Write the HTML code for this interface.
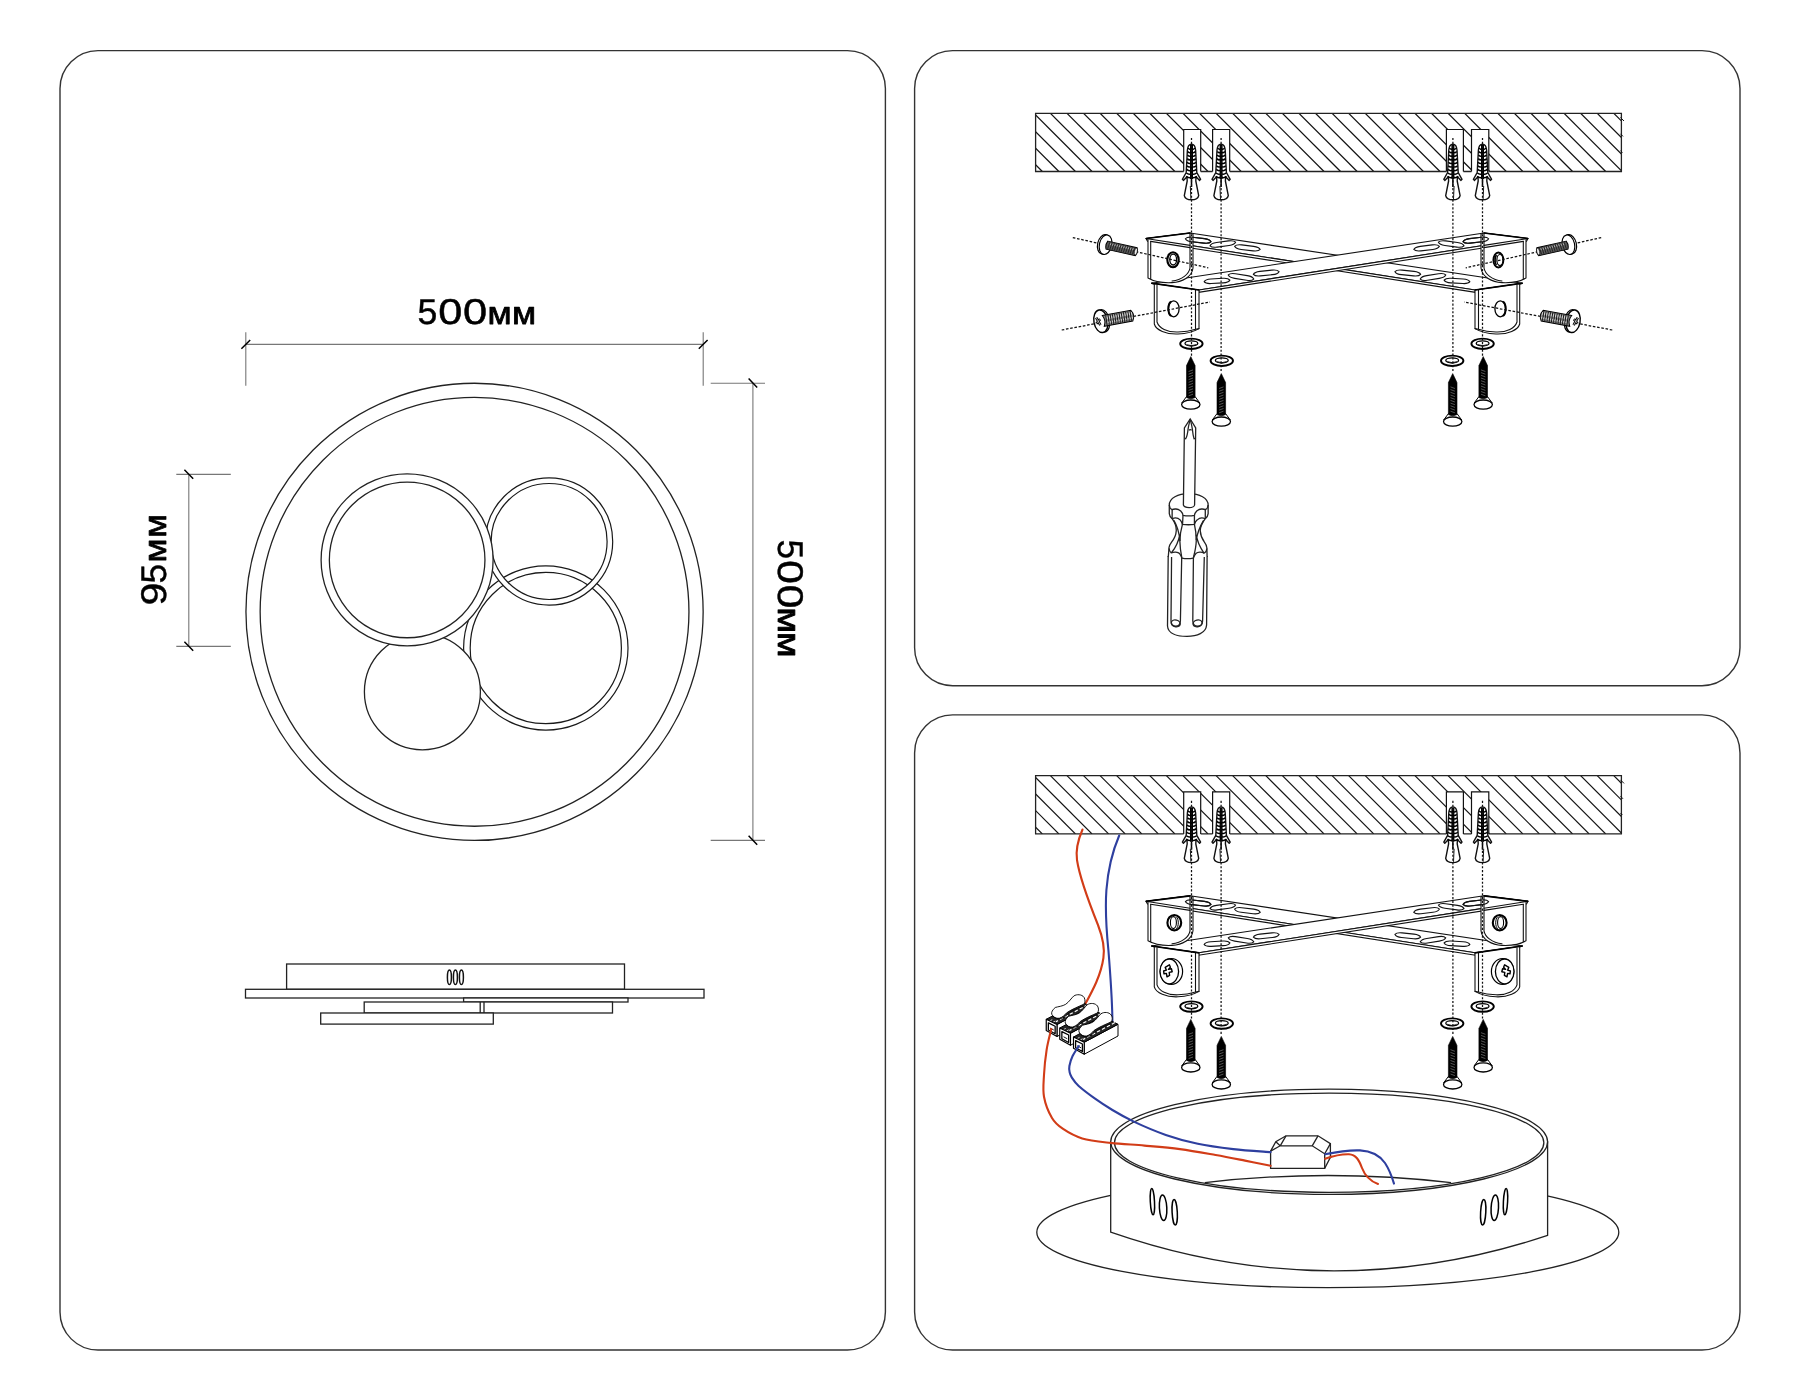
<!DOCTYPE html>
<html lang="ru"><head><meta charset="utf-8"><title>500мм × 500мм × 95мм</title>
<style>
html,body{margin:0;padding:0;background:#fff}
body{width:1800px;height:1400px;overflow:hidden}
svg{display:block}
.t{filter:grayscale(1);text-rendering:geometricPrecision;font-family:"Liberation Sans",sans-serif;font-size:36px;fill:#000;stroke:#000;stroke-width:.6px;stroke-linejoin:round}
.ln{fill:none;stroke:#222;stroke-width:1.3}
.lw{fill:#fff;stroke:#222;stroke-width:1.3}
.pn{fill:none;stroke:#333;stroke-width:1.4}
.dm{fill:none;stroke:#777;stroke-width:1.1}
.tk{fill:none;stroke:#000;stroke-width:1.5}
.ds{fill:none;stroke:#111;stroke-width:1.25;stroke-dasharray:2.1 1.75}
.br{fill:#fff;stroke:#111;stroke-width:1.1;stroke-linejoin:round}
.bl{fill:none;stroke:#111;stroke-width:1.1;stroke-linecap:round}
.bk{fill:none;stroke:#000;stroke-width:1.7;stroke-linecap:butt}
.hs{stroke:#111;stroke-width:1.2;fill:none}
</style></head><body>
<svg width="1800" height="1400" viewBox="0 0 1800 1400">
<rect width="1800" height="1400" fill="#fff"/>

<defs>
<clipPath id="slabclip"><rect x="1035.6" y="113.2" width="585.8" height="58.3"/></clipPath>
<g id="anchor">
<path class="br" style="stroke-width:1.4" d="M0,144.1 C-2.6,144.3 -3.9,147 -4.1,150 L-5.3,172.5 L-9.1,179.3 L-8.1,180.4 L-4.5,176.8 L-4.3,181 L-7.2,195.6 C-6.6,198.6 -3,199.8 0,199.8 C3,199.8 6.6,198.6 7.2,195.6 L4.3,181 L4.5,176.8 L8.1,180.4 L9.1,179.3 L5.3,172.5 L4.1,150 C3.9,147 2.6,144.3 0,144.1 Z"/>
<path d="M0,145 L0,179" stroke="#000" stroke-width="3" fill="none"/><path d="M0,179 L0,187" stroke="#000" stroke-width="1.5" fill="none"/>
<path d="M-1.2,186 L-0.6,199" stroke="#000" stroke-width="0.9" fill="none"/>
<path d="M-3.6,147.9 Q-1.8,150.1 0,148.5 Q1.8,150.1 3.6,147.9" stroke="#000" stroke-width="1.5" fill="none"/>
<path d="M-3.8,151.4 Q-1.9,153.6 0,152.0 Q1.9,153.6 3.8,151.4" stroke="#000" stroke-width="1.5" fill="none"/>
<path d="M-4.0,155.0 Q-2.0,157.2 0,155.6 Q2.0,157.2 4.0,155.0" stroke="#000" stroke-width="1.5" fill="none"/>
<path d="M-4.3,158.6 Q-2.1,160.8 0,159.2 Q2.1,160.8 4.3,158.6" stroke="#000" stroke-width="1.5" fill="none"/>
<path d="M-4.5,162.2 Q-2.2,164.4 0,162.8 Q2.2,164.4 4.5,162.2" stroke="#000" stroke-width="1.5" fill="none"/>
<path d="M-4.7,165.8 Q-2.4,168.0 0,166.4 Q2.4,168.0 4.7,165.8" stroke="#000" stroke-width="1.5" fill="none"/>
<path d="M-4.9,169.4 Q-2.5,171.6 0,170.0 Q2.5,171.6 4.9,169.4" stroke="#000" stroke-width="1.5" fill="none"/>
<path d="M-5.1,173.0 Q-2.6,175.2 0,173.6 Q2.6,175.2 5.1,173.0" stroke="#000" stroke-width="1.5" fill="none"/>
<path d="M-5.4,176.4 Q-2.7,178.6 0,177.0 Q2.7,178.6 5.4,176.4" stroke="#000" stroke-width="1.5" fill="none"/>
</g>
<g id="washer">
<ellipse cx="0" cy="0" rx="11.2" ry="5.2" fill="#fff" stroke="#000" stroke-width="1.9"/>
<ellipse cx="0" cy="-0.4" rx="6.4" ry="2.6" fill="#fff" stroke="#000" stroke-width="1.3"/>
<path d="M-5,0.6 Q0,3.2 5,0.6" fill="none" stroke="#000" stroke-width=".7"/>
</g>
<g id="wscrew">
<path d="M-4.3,40 L-9,46.4 L9,46.4 L4.3,40 Z" fill="#fff" stroke="#000" stroke-width="1"/>
<ellipse cx="0" cy="48" rx="9.2" ry="4.6" fill="#fff" stroke="#000" stroke-width="1.3"/>
<path d="M0,0 L4.3,9 L4.3,41 Q0,43.5 -4.3,41 L-4.3,9 Z" fill="#000" stroke="#000" stroke-width=".6" stroke-linejoin="round"/>
<path d="M-2.2,14.9 L2.2,13.3" stroke="#9a9a9a" stroke-width=".55"/>
<path d="M-2.2,17.6 L2.2,16.0" stroke="#9a9a9a" stroke-width=".55"/>
<path d="M-2.2,20.3 L2.2,18.7" stroke="#9a9a9a" stroke-width=".55"/>
<path d="M-2.2,23.0 L2.2,21.4" stroke="#9a9a9a" stroke-width=".55"/>
<path d="M-2.2,25.7 L2.2,24.1" stroke="#9a9a9a" stroke-width=".55"/>
<path d="M-2.2,28.4 L2.2,26.8" stroke="#9a9a9a" stroke-width=".55"/>
<path d="M-2.2,31.1 L2.2,29.5" stroke="#9a9a9a" stroke-width=".55"/>
<path d="M-2.2,33.8 L2.2,32.2" stroke="#9a9a9a" stroke-width=".55"/>
<path d="M-2.2,36.5 L2.2,34.9" stroke="#9a9a9a" stroke-width=".55"/>
<path d="M-2.2,39.2 L2.2,37.6" stroke="#9a9a9a" stroke-width=".55"/>
</g>
<path id="slot" d="M-12.9,0 C-11.4,-2.3 -8.5,-2.3 -6,-2.3 L6,-2.3 C8.5,-2.3 11.4,-2.3 12.9,0 C11.4,2.3 8.5,2.3 6,2.3 L-6,2.3 C-8.5,2.3 -11.4,2.3 -12.9,0 Z" fill="#fff" stroke="#111" stroke-width="1.1"/>
<g id="strip1"><path class="br" d="M1146,238.5 L1190,233 L1522.5,283.2 L1475,290 Z"/><path class="br" d="M1146,238.5 L1475,290 L1475.6,292.4 L1147.5,241.20000000000002 Z"/><use href="#slot" transform="translate(1198.2,240.2) rotate(6.5)"/><use href="#slot" transform="translate(1222.8,244) rotate(-8)"/><use href="#slot" transform="translate(1247.4,247.9) rotate(7)"/><use href="#slot" transform="translate(1407.8,273) rotate(6)"/><use href="#slot" transform="translate(1433,277) rotate(-9)"/><use href="#slot" transform="translate(1457,280.9) rotate(3.5)"/></g>
<g id="tabsL"><path class="br" d="M1151.5,283.2 L1154.3,284.2 L1154.3,324 C1156,330 1166,334.5 1178,334 C1187,333.6 1194,331.6 1199,328.6 L1199,290 Z"/>
<path class="bl" d="M1157,285.2 L1157,322 C1159,328 1167,332.4 1178,332 C1186,331.7 1191,330.6 1195.5,329.2 L1195.5,290"/>
<path class="bl" d="M1195.5,329.2 L1199,328.6"/>
<path class="bk" d="M1151.5,283.2 L1199,290"/>
<path class="br" d="M1146,238.5 L1148,239 L1148,278 C1154,281.5 1164,283 1172,282.6 C1182,282 1192,277 1193,268 L1193,234 L1190,233 Z"/>
<path class="bl" d="M1150.7,241.4 L1150.7,278.8"/>
<path class="bl" d="M1190,233 L1190,268 C1189,274 1182,280 1172,281"/>
<path class="bl" d="M1149,239 L1190,245.4"/>
<path class="bl" d="M1150.7,241.4 L1190,247.6"/>
<path class="bk" d="M1146,238.5 L1190,233"/>
</g>
<g id="holeUL">
<ellipse cx="1173" cy="259.8" rx="5.7" ry="7.5" fill="#fff" stroke="#000" stroke-width="2.1"/>
<ellipse cx="1173.2" cy="259.6" rx="3.4" ry="5.4" fill="#fff" stroke="#000" stroke-width="1.3"/>
</g>
<g id="holeUR">
<ellipse cx="1498.4" cy="260" rx="5" ry="7.5" fill="#fff" stroke="#000" stroke-width="1.9"/>
<ellipse cx="1499.9" cy="260" rx="3" ry="5.5" fill="#fff" stroke="#000" stroke-width="1.2"/>
<path d="M1496.4,255 C1494.6,257.5 1494.6,262.5 1496.4,265" fill="none" stroke="#000" stroke-width="1.6"/>
</g>
<g id="holeLL">
<ellipse cx="1173.7" cy="308.8" rx="5.4" ry="8" fill="#fff" stroke="#000" stroke-width="1.3"/>
<path d="M1171,301.6 C1167.5,304 1167.5,313.6 1171,316" fill="none" stroke="#000" stroke-width="2"/>
</g>
<g id="screwsInL">
<ellipse cx="1174.3" cy="259.9" rx="6.9" ry="7.7" fill="#fff" stroke="#000" stroke-width="2.1"/>
<ellipse cx="1173.4" cy="259.8" rx="3" ry="6" fill="#fff" stroke="#000" stroke-width="1.1"/>
<path d="M1176.2,254 C1179,256 1179,264 1176.2,266" fill="none" stroke="#000" stroke-width="1"/>
<ellipse cx="1171.4" cy="308.6" rx="11.2" ry="12.9" fill="#fff" stroke="#000" stroke-width="1.2"/>
<ellipse cx="1169.3" cy="308.6" rx="9.3" ry="12.4" fill="#fff" stroke="#000" stroke-width="1.3"/>
<path d="M1167.2,303.4 L1169.4,302 L1170.4,304.4 L1168.4,306.6 L1171.4,306 L1172.2,309 L1169.2,309.6 L1169.6,312.6 L1167,314 L1166.4,310.6 L1164,311 L1163.6,308.2 L1166.4,307.4 L1165.2,304.6 Z" fill="#fff" stroke="#000" stroke-width="1.4" stroke-linejoin="round"/>
</g>
</defs>
<rect class="pn" x="60" y="50.6" width="825.4" height="1299.4" rx="38" ry="38"/>
<rect class="pn" x="914.6" y="50.6" width="825.4" height="635.1" rx="38" ry="38"/>
<rect class="pn" x="914.6" y="714.9" width="825.4" height="635.1" rx="38" ry="38"/>
<g id="leftpanel">
<circle class="ln" cx="474.55" cy="611.85" r="228.6"/>
<circle class="ln" cx="474.55" cy="611.85" r="214.4"/>
<circle cx="545.8" cy="648" r="78.9" fill="none" stroke="#1a1a1a" stroke-width="7.80"/>
<circle cx="545.8" cy="648" r="78.9" fill="none" stroke="#fff" stroke-width="5.40"/>
<circle cx="549.1" cy="541.5" r="60.8" fill="none" stroke="#1a1a1a" stroke-width="6.80"/>
<circle cx="549.1" cy="541.5" r="60.8" fill="none" stroke="#fff" stroke-width="4.40"/>
<circle class="lw" cx="422.4" cy="691.8" r="58"/>
<circle class="lw" cx="407.1" cy="559.9" r="86"/>
<circle class="ln" cx="407.15" cy="559.95" r="77.8"/>
<path class="dm" d="M245.8,344.4 H703.2 M245.8,332.3 V385.8 M703.2,332.3 V385.8"/>
<path class="tk" d="M241.4,348.8 L250.2,340 M698.8,348.8 L707.6,340"/>
<text class="t" transform="translate(418.6,323.9)" aria-label="500мм"><title>500мм</title><tspan x="-1.13" y="0" font-size="35.7" stroke-width="0.45" textLength="19.82" lengthAdjust="spacingAndGlyphs">5</tspan><tspan x="19.61" y="0" font-size="35.7" stroke-width="0.45" textLength="24.08" lengthAdjust="spacingAndGlyphs">0</tspan><tspan x="44.40" y="0" font-size="35.7" stroke-width="0.45" textLength="24.19" lengthAdjust="spacingAndGlyphs">0</tspan><tspan x="68.98" y="0" font-size="32.0" stroke-width="0.8" textLength="24.12" lengthAdjust="spacingAndGlyphs">м</tspan><tspan x="93.48" y="0" font-size="32.0" stroke-width="0.8" textLength="24.12" lengthAdjust="spacingAndGlyphs">м</tspan></text>
<path class="dm" d="M752.9,383.2 V840.4 M710.7,383.2 H765 M710.7,840.4 H765"/>
<path class="tk" d="M748.6,378.6 L757.2,387.6 M748.6,835.8 L757.2,844.8"/>
<text class="t" transform="translate(778.0,540.6) rotate(90)" aria-label="500мм"><title>500мм</title><tspan x="-1.11" y="0" font-size="35.7" stroke-width="0.45" textLength="19.59" lengthAdjust="spacingAndGlyphs">5</tspan><tspan x="19.32" y="0" font-size="35.7" stroke-width="0.45" textLength="23.96" lengthAdjust="spacingAndGlyphs">0</tspan><tspan x="43.92" y="0" font-size="35.7" stroke-width="0.45" textLength="23.96" lengthAdjust="spacingAndGlyphs">0</tspan><tspan x="66.62" y="0" font-size="32.0" stroke-width="0.8" textLength="25.75" lengthAdjust="spacingAndGlyphs">м</tspan><tspan x="91.12" y="0" font-size="32.0" stroke-width="0.8" textLength="25.75" lengthAdjust="spacingAndGlyphs">м</tspan></text>
<path class="dm" d="M188.8,474.4 V646.4 M176.3,474.4 H230.8 M176.3,646.4 H230.8"/>
<path class="tk" d="M184.4,469.8 L193.2,478.8 M184.4,641.8 L193.2,650.8"/>
<text class="t" transform="translate(165.7,604) rotate(-90)" aria-label="95мм"><title>95мм</title><tspan x="-1.58" y="0" font-size="35.7" stroke-width="0.45" textLength="22.87" lengthAdjust="spacingAndGlyphs">9</tspan><tspan x="20.49" y="0" font-size="35.7" stroke-width="0.45" textLength="19.59" lengthAdjust="spacingAndGlyphs">5</tspan><tspan x="41.50" y="0" font-size="32.0" stroke-width="0.8" textLength="23.87" lengthAdjust="spacingAndGlyphs">м</tspan><tspan x="66.32" y="0" font-size="32.0" stroke-width="0.8" textLength="23.75" lengthAdjust="spacingAndGlyphs">м</tspan></text>
<rect class="lw" x="286.6" y="964" width="337.9" height="25.3"/>
<rect class="lw" x="245.5" y="989.3" width="458.5" height="8.7"/>
<rect class="lw" x="463.6" y="998" width="164.4" height="4"/>
<rect class="lw" x="364.2" y="1002" width="248.3" height="11"/>
<path class="ln" d="M480.2,1002 V1013 M484,1002 V1013"/>
<rect class="lw" x="320.7" y="1013" width="172.6" height="11.1"/>
<ellipse cx="449.4" cy="977.3" rx="2" ry="7.3" fill="#fff" stroke="#111" stroke-width="1.5"/>
<ellipse cx="455.4" cy="977.3" rx="2" ry="7.3" fill="#fff" stroke="#111" stroke-width="1.5"/>
<ellipse cx="461.4" cy="977.3" rx="2" ry="7.3" fill="#fff" stroke="#111" stroke-width="1.5"/>
</g>
<g id="toppanel">
<g transform="translate(0,0)"><g clip-path="url(#slabclip)"><path class="hs" d="M950.98,113.3 L1009.18,171.5"/><path class="hs" d="M967.55,113.3 L1025.75,171.5"/><path class="hs" d="M984.12,113.3 L1042.32,171.5"/><path class="hs" d="M1000.69,113.3 L1058.89,171.5"/><path class="hs" d="M1017.26,113.3 L1075.46,171.5"/><path class="hs" d="M1033.83,113.3 L1092.03,171.5"/><path class="hs" d="M1050.40,113.3 L1108.60,171.5"/><path class="hs" d="M1066.97,113.3 L1125.17,171.5"/><path class="hs" d="M1083.54,113.3 L1141.74,171.5"/><path class="hs" d="M1100.11,113.3 L1158.31,171.5"/><path class="hs" d="M1116.68,113.3 L1174.88,171.5"/><path class="hs" d="M1133.25,113.3 L1191.45,171.5"/><path class="hs" d="M1149.82,113.3 L1208.02,171.5"/><path class="hs" d="M1166.39,113.3 L1224.59,171.5"/><path class="hs" d="M1182.96,113.3 L1241.16,171.5"/><path class="hs" d="M1199.53,113.3 L1257.73,171.5"/><path class="hs" d="M1216.10,113.3 L1274.30,171.5"/><path class="hs" d="M1232.67,113.3 L1290.87,171.5"/><path class="hs" d="M1249.24,113.3 L1307.44,171.5"/><path class="hs" d="M1265.81,113.3 L1324.01,171.5"/><path class="hs" d="M1282.38,113.3 L1340.58,171.5"/><path class="hs" d="M1298.95,113.3 L1357.15,171.5"/><path class="hs" d="M1315.52,113.3 L1373.72,171.5"/><path class="hs" d="M1332.09,113.3 L1390.29,171.5"/><path class="hs" d="M1348.66,113.3 L1406.86,171.5"/><path class="hs" d="M1365.23,113.3 L1423.43,171.5"/><path class="hs" d="M1381.80,113.3 L1440.00,171.5"/><path class="hs" d="M1398.37,113.3 L1456.57,171.5"/><path class="hs" d="M1414.94,113.3 L1473.14,171.5"/><path class="hs" d="M1431.51,113.3 L1489.71,171.5"/><path class="hs" d="M1448.08,113.3 L1506.28,171.5"/><path class="hs" d="M1464.65,113.3 L1522.85,171.5"/><path class="hs" d="M1481.22,113.3 L1539.42,171.5"/><path class="hs" d="M1497.79,113.3 L1555.99,171.5"/><path class="hs" d="M1514.36,113.3 L1572.56,171.5"/><path class="hs" d="M1530.93,113.3 L1589.13,171.5"/><path class="hs" d="M1547.50,113.3 L1605.70,171.5"/><path class="hs" d="M1564.07,113.3 L1622.27,171.5"/><path class="hs" d="M1580.64,113.3 L1638.84,171.5"/><path class="hs" d="M1597.21,113.3 L1655.41,171.5"/><path class="hs" d="M1613.78,113.3 L1671.98,171.5"/></g><rect x="1183.7" y="129.5" width="17.0" height="44" fill="#fff"/><path d="M1183.7,171.5 V129.5 H1200.7 V171.5" fill="none" stroke="#111" stroke-width="1.2"/><rect x="1212.6" y="129.5" width="17.1" height="44" fill="#fff"/><path d="M1212.6,171.5 V129.5 H1229.7 V171.5" fill="none" stroke="#111" stroke-width="1.2"/><rect x="1446.4" y="129.5" width="17.0" height="44" fill="#fff"/><path d="M1446.4,171.5 V129.5 H1463.4 V171.5" fill="none" stroke="#111" stroke-width="1.2"/><rect x="1471.5" y="129.5" width="17.3" height="44" fill="#fff"/><path d="M1471.5,171.5 V129.5 H1488.8 V171.5" fill="none" stroke="#111" stroke-width="1.2"/><path d="M1183.7,171.5 H1035.6 V113.3 H1621.4 V171.5 H1488.8 M1471.5,171.5 H1463.4 M1446.4,171.5 H1229.7 M1212.6,171.5 H1200.7" fill="none" stroke="#222" stroke-width="1.3"/><path d="M1620.5,117.5 L1624,121 M1620.5,133.8 L1623,136.4 M1620.5,150.6 L1622.4,152.6" stroke="#111" stroke-width="1" fill="none"/></g>
<use href="#strip1"/><use href="#strip1" transform="translate(2674,0) scale(-1,1)"/><g><use href="#tabsL"/><path d="M-12.9,0 C-11.4,-2.3 -8.5,-2.3 -6,-2.3 L6,-2.3 C8.5,-2.3 11.4,-2.3 12.9,0 C11.4,2.3 8.5,2.3 6,2.3 L-6,2.3 C-8.5,2.3 -11.4,2.3 -12.9,0 Z" fill="none" stroke="#111" stroke-width="1.1" transform="translate(1198.2,240.2) rotate(6.5)"/><use href="#holeLL"/><use href="#holeUL"/></g><g transform="translate(2674,0) scale(-1,1)"><use href="#tabsL"/><path d="M-12.9,0 C-11.4,-2.3 -8.5,-2.3 -6,-2.3 L6,-2.3 C8.5,-2.3 11.4,-2.3 12.9,0 C11.4,2.3 8.5,2.3 6,2.3 L-6,2.3 C-8.5,2.3 -11.4,2.3 -12.9,0 Z" fill="none" stroke="#111" stroke-width="1.1" transform="translate(1198.2,240.2) rotate(6.5)"/><use href="#holeLL"/></g><use href="#holeUR"/>
<g>
<use href="#anchor" x="1191.5" y="0"/><use href="#anchor" x="1221.1" y="0"/><use href="#washer" x="1191.4" y="343.8"/><use href="#washer" x="1221.8" y="360.8"/><use href="#wscrew" x="1190.8" y="356.6"/><use href="#wscrew" x="1221.3" y="373.6"/>
<path class="ds" style="stroke-width:1.25;stroke-dasharray:2.6 1.7" d="M1072.8,237.6 L1208.3,267.8"/><path class="ds" style="stroke-width:1.25;stroke-dasharray:2.6 1.7" d="M1061.7,330 L1210,302"/><g transform="translate(1105,244.6) rotate(12.6)"><ellipse cx="-1.2" cy="0" rx="6.2" ry="9.9" fill="#fff" stroke="#000" stroke-width="1.2"/><ellipse cx="0.6" cy="0" rx="6.2" ry="9.9" fill="#fff" stroke="#000" stroke-width="1.2"/><path d="M2,-4 L32,-4 Q34.4,0 32,4.2 L2,4.2 Q0,0 2,-4 Z" fill="#5a5a5a" stroke="#000" stroke-width="1"/><path d="M4.2,-3.4 L3.5,3.6" stroke="#222" stroke-width=".9"/><path d="M6.5,-3.4 L5.8,3.6" stroke="#222" stroke-width=".9"/><path d="M8.8,-3.4 L8.1,3.6" stroke="#222" stroke-width=".9"/><path d="M11.1,-3.4 L10.4,3.6" stroke="#222" stroke-width=".9"/><path d="M13.4,-3.4 L12.7,3.6" stroke="#222" stroke-width=".9"/><path d="M15.7,-3.4 L15.0,3.6" stroke="#222" stroke-width=".9"/><path d="M18.0,-3.4 L17.3,3.6" stroke="#222" stroke-width=".9"/><path d="M20.3,-3.4 L19.6,3.6" stroke="#222" stroke-width=".9"/><path d="M22.6,-3.4 L21.9,3.6" stroke="#222" stroke-width=".9"/><path d="M24.9,-3.4 L24.2,3.6" stroke="#222" stroke-width=".9"/><path d="M27.2,-3.4 L26.5,3.6" stroke="#222" stroke-width=".9"/><path d="M29.5,-3.4 L28.8,3.6" stroke="#222" stroke-width=".9"/><path d="M5.4,-2.6 L5.2,-0.6" stroke="#ddd" stroke-width=".6"/><path d="M7.7,-2.6 L7.5,-0.6" stroke="#ddd" stroke-width=".6"/><path d="M10.0,-2.6 L9.8,-0.6" stroke="#ddd" stroke-width=".6"/><path d="M12.3,-2.6 L12.1,-0.6" stroke="#ddd" stroke-width=".6"/><path d="M14.6,-2.6 L14.4,-0.6" stroke="#ddd" stroke-width=".6"/><path d="M16.9,-2.6 L16.7,-0.6" stroke="#ddd" stroke-width=".6"/><path d="M19.2,-2.6 L19.0,-0.6" stroke="#ddd" stroke-width=".6"/><path d="M21.5,-2.6 L21.3,-0.6" stroke="#ddd" stroke-width=".6"/><path d="M23.8,-2.6 L23.6,-0.6" stroke="#ddd" stroke-width=".6"/><path d="M26.1,-2.6 L25.9,-0.6" stroke="#ddd" stroke-width=".6"/><path d="M28.4,-2.6 L28.2,-0.6" stroke="#ddd" stroke-width=".6"/><ellipse cx="31.6" cy="0.1" rx="1.5" ry="3.6" fill="#eee" stroke="#000" stroke-width=".7"/></g><g transform="translate(1101.3,321.2) rotate(-10.4)"><ellipse cx="1.4" cy="0" rx="7" ry="11.4" fill="#fff" stroke="#000" stroke-width="1.2"/><ellipse cx="-0.4" cy="0" rx="7" ry="11.4" fill="#fff" stroke="#000" stroke-width="1.4"/><path d="M-4.4,-4.4 L-1.6,3.6 M-5.4,1.6 L-0.8,-2.2" stroke="#000" stroke-width="2.6" fill="none" stroke-linecap="butt"/><path d="M-4.4,-4.4 L-1.6,3.6 M-5.4,1.6 L-0.8,-2.2" stroke="#fff" stroke-width=".6" fill="none" stroke-linecap="butt"/><path d="M2,-5.4 L31,-5.4 Q34.6,0 31,5.6 L2,5.6 Q5,0 2,-5.4 Z" fill="#8a8a8a" stroke="#000" stroke-width="1"/><path d="M5.4,-4.8 L5.0,5" stroke="#111" stroke-width=".9"/><path d="M7.7,-4.8 L7.2,5" stroke="#111" stroke-width=".9"/><path d="M9.9,-4.8 L9.5,5" stroke="#111" stroke-width=".9"/><path d="M12.2,-4.8 L11.8,5" stroke="#111" stroke-width=".9"/><path d="M14.4,-4.8 L14.0,5" stroke="#111" stroke-width=".9"/><path d="M16.6,-4.8 L16.2,5" stroke="#111" stroke-width=".9"/><path d="M18.9,-4.8 L18.5,5" stroke="#111" stroke-width=".9"/><path d="M21.1,-4.8 L20.8,5" stroke="#111" stroke-width=".9"/><path d="M23.4,-4.8 L23.0,5" stroke="#111" stroke-width=".9"/><path d="M25.6,-4.8 L25.2,5" stroke="#111" stroke-width=".9"/><path d="M27.9,-4.8 L27.5,5" stroke="#111" stroke-width=".9"/><path d="M30.1,-4.8 L29.8,5" stroke="#111" stroke-width=".9"/><path d="M6.5,-3.6 L6.5,-0.8 M6.5,1.4 L6.5,3.2" stroke="#eee" stroke-width=".7"/><path d="M8.8,-3.6 L8.8,-0.8 M8.8,1.4 L8.8,3.2" stroke="#eee" stroke-width=".7"/><path d="M11.0,-3.6 L11.0,-0.8 M11.0,1.4 L11.0,3.2" stroke="#eee" stroke-width=".7"/><path d="M13.2,-3.6 L13.2,-0.8 M13.2,1.4 L13.2,3.2" stroke="#eee" stroke-width=".7"/><path d="M15.5,-3.6 L15.5,-0.8 M15.5,1.4 L15.5,3.2" stroke="#eee" stroke-width=".7"/><path d="M17.8,-3.6 L17.8,-0.8 M17.8,1.4 L17.8,3.2" stroke="#eee" stroke-width=".7"/><path d="M20.0,-3.6 L20.0,-0.8 M20.0,1.4 L20.0,3.2" stroke="#eee" stroke-width=".7"/><path d="M22.2,-3.6 L22.2,-0.8 M22.2,1.4 L22.2,3.2" stroke="#eee" stroke-width=".7"/><path d="M24.5,-3.6 L24.5,-0.8 M24.5,1.4 L24.5,3.2" stroke="#eee" stroke-width=".7"/><path d="M26.8,-3.6 L26.8,-0.8 M26.8,1.4 L26.8,3.2" stroke="#eee" stroke-width=".7"/><path d="M29.0,-3.6 L29.0,-0.8 M29.0,1.4 L29.0,3.2" stroke="#eee" stroke-width=".7"/><path d="M31.2,-3.6 L31.2,-0.8 M31.2,1.4 L31.2,3.2" stroke="#eee" stroke-width=".7"/></g>
<path class="ds" d="M1191.5,138 V356"/><path class="ds" d="M1221.1,138 V372"/>
</g>
<g transform="translate(2674,0) scale(-1,1)">
<use href="#anchor" x="1191.5" y="0"/><use href="#anchor" x="1221.1" y="0"/><use href="#washer" x="1191.4" y="343.8"/><use href="#washer" x="1221.8" y="360.8"/><use href="#wscrew" x="1190.8" y="356.6"/><use href="#wscrew" x="1221.3" y="373.6"/>
<path class="ds" style="stroke-width:1.25;stroke-dasharray:2.6 1.7" d="M1072.8,237.6 L1208.3,267.8"/><path class="ds" style="stroke-width:1.25;stroke-dasharray:2.6 1.7" d="M1061.7,330 L1210,302"/><g transform="translate(1105,244.6) rotate(12.6)"><ellipse cx="-1.2" cy="0" rx="6.2" ry="9.9" fill="#fff" stroke="#000" stroke-width="1.2"/><ellipse cx="0.6" cy="0" rx="6.2" ry="9.9" fill="#fff" stroke="#000" stroke-width="1.2"/><path d="M2,-4 L32,-4 Q34.4,0 32,4.2 L2,4.2 Q0,0 2,-4 Z" fill="#5a5a5a" stroke="#000" stroke-width="1"/><path d="M4.2,-3.4 L3.5,3.6" stroke="#222" stroke-width=".9"/><path d="M6.5,-3.4 L5.8,3.6" stroke="#222" stroke-width=".9"/><path d="M8.8,-3.4 L8.1,3.6" stroke="#222" stroke-width=".9"/><path d="M11.1,-3.4 L10.4,3.6" stroke="#222" stroke-width=".9"/><path d="M13.4,-3.4 L12.7,3.6" stroke="#222" stroke-width=".9"/><path d="M15.7,-3.4 L15.0,3.6" stroke="#222" stroke-width=".9"/><path d="M18.0,-3.4 L17.3,3.6" stroke="#222" stroke-width=".9"/><path d="M20.3,-3.4 L19.6,3.6" stroke="#222" stroke-width=".9"/><path d="M22.6,-3.4 L21.9,3.6" stroke="#222" stroke-width=".9"/><path d="M24.9,-3.4 L24.2,3.6" stroke="#222" stroke-width=".9"/><path d="M27.2,-3.4 L26.5,3.6" stroke="#222" stroke-width=".9"/><path d="M29.5,-3.4 L28.8,3.6" stroke="#222" stroke-width=".9"/><path d="M5.4,-2.6 L5.2,-0.6" stroke="#ddd" stroke-width=".6"/><path d="M7.7,-2.6 L7.5,-0.6" stroke="#ddd" stroke-width=".6"/><path d="M10.0,-2.6 L9.8,-0.6" stroke="#ddd" stroke-width=".6"/><path d="M12.3,-2.6 L12.1,-0.6" stroke="#ddd" stroke-width=".6"/><path d="M14.6,-2.6 L14.4,-0.6" stroke="#ddd" stroke-width=".6"/><path d="M16.9,-2.6 L16.7,-0.6" stroke="#ddd" stroke-width=".6"/><path d="M19.2,-2.6 L19.0,-0.6" stroke="#ddd" stroke-width=".6"/><path d="M21.5,-2.6 L21.3,-0.6" stroke="#ddd" stroke-width=".6"/><path d="M23.8,-2.6 L23.6,-0.6" stroke="#ddd" stroke-width=".6"/><path d="M26.1,-2.6 L25.9,-0.6" stroke="#ddd" stroke-width=".6"/><path d="M28.4,-2.6 L28.2,-0.6" stroke="#ddd" stroke-width=".6"/><ellipse cx="31.6" cy="0.1" rx="1.5" ry="3.6" fill="#eee" stroke="#000" stroke-width=".7"/></g><g transform="translate(1101.3,321.2) rotate(-10.4)"><ellipse cx="1.4" cy="0" rx="7" ry="11.4" fill="#fff" stroke="#000" stroke-width="1.2"/><ellipse cx="-0.4" cy="0" rx="7" ry="11.4" fill="#fff" stroke="#000" stroke-width="1.4"/><path d="M-4.4,-4.4 L-1.6,3.6 M-5.4,1.6 L-0.8,-2.2" stroke="#000" stroke-width="2.6" fill="none" stroke-linecap="butt"/><path d="M-4.4,-4.4 L-1.6,3.6 M-5.4,1.6 L-0.8,-2.2" stroke="#fff" stroke-width=".6" fill="none" stroke-linecap="butt"/><path d="M2,-5.4 L31,-5.4 Q34.6,0 31,5.6 L2,5.6 Q5,0 2,-5.4 Z" fill="#8a8a8a" stroke="#000" stroke-width="1"/><path d="M5.4,-4.8 L5.0,5" stroke="#111" stroke-width=".9"/><path d="M7.7,-4.8 L7.2,5" stroke="#111" stroke-width=".9"/><path d="M9.9,-4.8 L9.5,5" stroke="#111" stroke-width=".9"/><path d="M12.2,-4.8 L11.8,5" stroke="#111" stroke-width=".9"/><path d="M14.4,-4.8 L14.0,5" stroke="#111" stroke-width=".9"/><path d="M16.6,-4.8 L16.2,5" stroke="#111" stroke-width=".9"/><path d="M18.9,-4.8 L18.5,5" stroke="#111" stroke-width=".9"/><path d="M21.1,-4.8 L20.8,5" stroke="#111" stroke-width=".9"/><path d="M23.4,-4.8 L23.0,5" stroke="#111" stroke-width=".9"/><path d="M25.6,-4.8 L25.2,5" stroke="#111" stroke-width=".9"/><path d="M27.9,-4.8 L27.5,5" stroke="#111" stroke-width=".9"/><path d="M30.1,-4.8 L29.8,5" stroke="#111" stroke-width=".9"/><path d="M6.5,-3.6 L6.5,-0.8 M6.5,1.4 L6.5,3.2" stroke="#eee" stroke-width=".7"/><path d="M8.8,-3.6 L8.8,-0.8 M8.8,1.4 L8.8,3.2" stroke="#eee" stroke-width=".7"/><path d="M11.0,-3.6 L11.0,-0.8 M11.0,1.4 L11.0,3.2" stroke="#eee" stroke-width=".7"/><path d="M13.2,-3.6 L13.2,-0.8 M13.2,1.4 L13.2,3.2" stroke="#eee" stroke-width=".7"/><path d="M15.5,-3.6 L15.5,-0.8 M15.5,1.4 L15.5,3.2" stroke="#eee" stroke-width=".7"/><path d="M17.8,-3.6 L17.8,-0.8 M17.8,1.4 L17.8,3.2" stroke="#eee" stroke-width=".7"/><path d="M20.0,-3.6 L20.0,-0.8 M20.0,1.4 L20.0,3.2" stroke="#eee" stroke-width=".7"/><path d="M22.2,-3.6 L22.2,-0.8 M22.2,1.4 L22.2,3.2" stroke="#eee" stroke-width=".7"/><path d="M24.5,-3.6 L24.5,-0.8 M24.5,1.4 L24.5,3.2" stroke="#eee" stroke-width=".7"/><path d="M26.8,-3.6 L26.8,-0.8 M26.8,1.4 L26.8,3.2" stroke="#eee" stroke-width=".7"/><path d="M29.0,-3.6 L29.0,-0.8 M29.0,1.4 L29.0,3.2" stroke="#eee" stroke-width=".7"/><path d="M31.2,-3.6 L31.2,-0.8 M31.2,1.4 L31.2,3.2" stroke="#eee" stroke-width=".7"/></g>
<path class="ds" d="M1191.5,138 V356"/><path class="ds" d="M1221.1,138 V372"/>
</g>
<g id="screwdriver"><path d="M1168.4,548 L1167.5,626 C1168,634 1178,636.4 1187,636.4 C1197,636.4 1206,633 1206.6,625 L1207,548 Z" fill="#fff"/><path class="ln" d="M1168.2,556 L1167.5,626 C1168,634 1178,636.4 1187,636.4 C1197,636.4 1206,633 1206.6,625 L1207.1,556"/><path class="ln" d="M1171.6,553 L1171,621 C1171.6,628 1180,628 1180.4,621 L1181.7,558 M1193.4,558 L1192.8,621 C1193.2,628 1202,628 1202.6,621 L1204.4,553"/><ellipse class="ln" cx="1175.7" cy="623.4" rx="4.6" ry="3.3" transform="rotate(15 1175.7 623.4)"/><ellipse class="ln" cx="1197.6" cy="623.4" rx="4.6" ry="3.3" transform="rotate(-15 1197.6 623.4)"/><g transform="translate(1155,485) scale(0.0571429)" fill="none" stroke="#222" stroke-width="1.3" vector-effect="non-scaling-stroke"><path d="M250,350 C250,230 400,150 590,150 C780,150 930,230 930,350 L930,500 C925,545 900,575 880,590 C830,660 790,730 792,800 C795,880 830,950 865,1000 C895,1040 910,1075 908,1110 L912,1260 L232,1260 L245,1110 C240,1075 255,1045 290,1000 C330,950 368,880 372,800 C375,730 350,660 300,590 C280,575 255,545 250,500 Z" fill="#fff" stroke="none" vector-effect="non-scaling-stroke"/><path d="M250,350 C250,230 400,150 590,150 C780,150 930,230 930,350 L930,500 C925,545 900,575 880,590 C830,660 790,730 792,800 C795,880 830,950 865,1000 C895,1040 910,1075 908,1110 L912,1260 M232,1260 L245,1110 C240,1075 255,1045 290,1000 C330,950 368,880 372,800 C375,730 350,660 300,590 C280,575 255,545 250,500 L250,350" fill="none" vector-effect="non-scaling-stroke"/><path d="M250,350 C252,395 270,420 300,432 C330,415 400,410 450,455 C475,480 488,510 490,530 Q590,552 690,530 C692,510 705,480 730,455 C780,410 850,415 880,432 C910,420 928,395 930,350" fill="none" vector-effect="non-scaling-stroke"/><path d="M300,432 L300,590 M880,432 L880,590" fill="none" vector-effect="non-scaling-stroke"/><path d="M300,590 C340,570 400,570 440,610 C465,640 478,670 480,690 Q585,702 690,690 C692,670 705,640 740,610 C780,570 840,570 880,590" fill="none" vector-effect="non-scaling-stroke"/><path d="M490,530 L482,690 M690,530 L690,690" fill="none" vector-effect="non-scaling-stroke"/><path d="M480,690 C455,780 435,880 435,980 C437,1090 455,1200 470,1280 Q570,1300 670,1280 C690,1200 720,1090 722,980 C722,880 712,780 690,690" fill="none" vector-effect="non-scaling-stroke"/><path d="M330,620 C390,720 425,850 438,980 M285,1190 C360,1100 415,980 435,860 M850,620 C790,720 745,830 722,960 M860,1195 C790,1100 740,990 722,870" fill="none" vector-effect="non-scaling-stroke"/><path d="M285,1190 C330,1165 400,1170 430,1200 C450,1225 465,1255 470,1280 M860,1195 C820,1165 750,1170 715,1200 C695,1225 675,1255 670,1280" fill="none" vector-effect="non-scaling-stroke"/><path d="M245,1110 C250,1150 265,1175 285,1190 M908,1110 C905,1150 885,1180 860,1195" fill="none" vector-effect="non-scaling-stroke"/></g><path class="lw" d="M1184.4,428 L1183.4,505 C1184.4,508.4 1194,508.4 1194.6,505 L1195.7,428 L1190.2,419 Z"/><g transform="translate(1160,400) scale(0.0428571)" fill="none" stroke="#222" stroke-width="1.25"><path d="M705,445 C690,520 665,600 655,680 C645,780 625,860 600,905 L573,895" fill="none" vector-effect="non-scaling-stroke"/><path d="M705,445 C720,520 745,600 755,680 C765,780 780,860 795,905 L831,895" fill="none" vector-effect="non-scaling-stroke"/><path d="M672,705 Q705,680 738,705" fill="none" vector-effect="non-scaling-stroke"/></g></g>
</g>
<g id="botpanel">
<g transform="translate(0,662.4)"><g clip-path="url(#slabclip)"><path class="hs" d="M950.98,113.3 L1009.18,171.5"/><path class="hs" d="M967.55,113.3 L1025.75,171.5"/><path class="hs" d="M984.12,113.3 L1042.32,171.5"/><path class="hs" d="M1000.69,113.3 L1058.89,171.5"/><path class="hs" d="M1017.26,113.3 L1075.46,171.5"/><path class="hs" d="M1033.83,113.3 L1092.03,171.5"/><path class="hs" d="M1050.40,113.3 L1108.60,171.5"/><path class="hs" d="M1066.97,113.3 L1125.17,171.5"/><path class="hs" d="M1083.54,113.3 L1141.74,171.5"/><path class="hs" d="M1100.11,113.3 L1158.31,171.5"/><path class="hs" d="M1116.68,113.3 L1174.88,171.5"/><path class="hs" d="M1133.25,113.3 L1191.45,171.5"/><path class="hs" d="M1149.82,113.3 L1208.02,171.5"/><path class="hs" d="M1166.39,113.3 L1224.59,171.5"/><path class="hs" d="M1182.96,113.3 L1241.16,171.5"/><path class="hs" d="M1199.53,113.3 L1257.73,171.5"/><path class="hs" d="M1216.10,113.3 L1274.30,171.5"/><path class="hs" d="M1232.67,113.3 L1290.87,171.5"/><path class="hs" d="M1249.24,113.3 L1307.44,171.5"/><path class="hs" d="M1265.81,113.3 L1324.01,171.5"/><path class="hs" d="M1282.38,113.3 L1340.58,171.5"/><path class="hs" d="M1298.95,113.3 L1357.15,171.5"/><path class="hs" d="M1315.52,113.3 L1373.72,171.5"/><path class="hs" d="M1332.09,113.3 L1390.29,171.5"/><path class="hs" d="M1348.66,113.3 L1406.86,171.5"/><path class="hs" d="M1365.23,113.3 L1423.43,171.5"/><path class="hs" d="M1381.80,113.3 L1440.00,171.5"/><path class="hs" d="M1398.37,113.3 L1456.57,171.5"/><path class="hs" d="M1414.94,113.3 L1473.14,171.5"/><path class="hs" d="M1431.51,113.3 L1489.71,171.5"/><path class="hs" d="M1448.08,113.3 L1506.28,171.5"/><path class="hs" d="M1464.65,113.3 L1522.85,171.5"/><path class="hs" d="M1481.22,113.3 L1539.42,171.5"/><path class="hs" d="M1497.79,113.3 L1555.99,171.5"/><path class="hs" d="M1514.36,113.3 L1572.56,171.5"/><path class="hs" d="M1530.93,113.3 L1589.13,171.5"/><path class="hs" d="M1547.50,113.3 L1605.70,171.5"/><path class="hs" d="M1564.07,113.3 L1622.27,171.5"/><path class="hs" d="M1580.64,113.3 L1638.84,171.5"/><path class="hs" d="M1597.21,113.3 L1655.41,171.5"/><path class="hs" d="M1613.78,113.3 L1671.98,171.5"/></g><rect x="1183.7" y="129.5" width="17.0" height="44" fill="#fff"/><path d="M1183.7,171.5 V129.5 H1200.7 V171.5" fill="none" stroke="#111" stroke-width="1.2"/><rect x="1212.6" y="129.5" width="17.1" height="44" fill="#fff"/><path d="M1212.6,171.5 V129.5 H1229.7 V171.5" fill="none" stroke="#111" stroke-width="1.2"/><rect x="1446.4" y="129.5" width="17.0" height="44" fill="#fff"/><path d="M1446.4,171.5 V129.5 H1463.4 V171.5" fill="none" stroke="#111" stroke-width="1.2"/><rect x="1471.5" y="129.5" width="17.3" height="44" fill="#fff"/><path d="M1471.5,171.5 V129.5 H1488.8 V171.5" fill="none" stroke="#111" stroke-width="1.2"/><path d="M1183.7,171.5 H1035.6 V113.3 H1621.4 V171.5 H1488.8 M1471.5,171.5 H1463.4 M1446.4,171.5 H1229.7 M1212.6,171.5 H1200.7" fill="none" stroke="#222" stroke-width="1.3"/><path d="M1620.5,117.5 L1624,121 M1620.5,133.8 L1623,136.4 M1620.5,150.6 L1622.4,152.6" stroke="#111" stroke-width="1" fill="none"/></g>
<g transform="translate(0,662.8)">
<use href="#strip1"/><use href="#strip1" transform="translate(2674,0) scale(-1,1)"/><g><use href="#tabsL"/><path d="M-12.9,0 C-11.4,-2.3 -8.5,-2.3 -6,-2.3 L6,-2.3 C8.5,-2.3 11.4,-2.3 12.9,0 C11.4,2.3 8.5,2.3 6,2.3 L-6,2.3 C-8.5,2.3 -11.4,2.3 -12.9,0 Z" fill="none" stroke="#111" stroke-width="1.1" transform="translate(1198.2,240.2) rotate(6.5)"/><use href="#screwsInL"/></g><g transform="translate(2674,0) scale(-1,1)"><use href="#tabsL"/><path d="M-12.9,0 C-11.4,-2.3 -8.5,-2.3 -6,-2.3 L6,-2.3 C8.5,-2.3 11.4,-2.3 12.9,0 C11.4,2.3 8.5,2.3 6,2.3 L-6,2.3 C-8.5,2.3 -11.4,2.3 -12.9,0 Z" fill="none" stroke="#111" stroke-width="1.1" transform="translate(1198.2,240.2) rotate(6.5)"/><use href="#screwsInL"/></g>
<g>
<use href="#anchor" x="1191.5" y="0"/><use href="#anchor" x="1221.1" y="0"/><use href="#washer" x="1191.4" y="343.8"/><use href="#washer" x="1221.8" y="360.8"/><use href="#wscrew" x="1190.8" y="356.6"/><use href="#wscrew" x="1221.3" y="373.6"/>
<path class="ds" d="M1191.5,138 V356"/><path class="ds" d="M1221.1,138 V372"/>
</g>
<g transform="translate(2674,0) scale(-1,1)">
<use href="#anchor" x="1191.5" y="0"/><use href="#anchor" x="1221.1" y="0"/><use href="#washer" x="1191.4" y="343.8"/><use href="#washer" x="1221.8" y="360.8"/><use href="#wscrew" x="1190.8" y="356.6"/><use href="#wscrew" x="1221.3" y="373.6"/>
<path class="ds" d="M1191.5,138 V356"/><path class="ds" d="M1221.1,138 V372"/>
</g>
</g>
<ellipse class="lw" cx="1327.8" cy="1232.3" rx="291" ry="55.4"/>
<path class="lw" d="M1110.7,1141.8 L1110.7,1232.1 Q1329.15,1308 1547.6,1235.4 L1547.6,1141.8 Z"/>
<ellipse class="lw" cx="1329.15" cy="1141.8" rx="218.45" ry="52.6"/>
<ellipse class="lw" cx="1329.15" cy="1142.7" rx="214.7" ry="49.6"/>
<path class="ln" d="M1204.9,1182.6 Q1328,1168.4 1451.1,1182.6"/>
<ellipse cx="1152.4" cy="1201.6" rx="2.1" ry="13.2" fill="#fff" stroke="#000" stroke-width="1.5" transform="rotate(-3 1152.4 1201.6)"/>
<ellipse cx="1505.5" cy="1201.6" rx="2.1" ry="13.2" fill="#fff" stroke="#000" stroke-width="1.5" transform="rotate(3 1505.5 1201.6)"/>
<ellipse cx="1163.1" cy="1207.8" rx="3.7" ry="12.8" fill="#fff" stroke="#000" stroke-width="1.5" transform="rotate(-3 1163.1 1207.8)"/>
<ellipse cx="1494.8" cy="1207.8" rx="3.7" ry="12.8" fill="#fff" stroke="#000" stroke-width="1.5" transform="rotate(3 1494.8 1207.8)"/>
<ellipse cx="1174.7" cy="1212.2" rx="2.6" ry="12.8" fill="#fff" stroke="#000" stroke-width="1.5" transform="rotate(-3 1174.7 1212.2)"/>
<ellipse cx="1483.2" cy="1212.2" rx="2.6" ry="12.8" fill="#fff" stroke="#000" stroke-width="1.5" transform="rotate(3 1483.2 1212.2)"/>
<path d="M1082.5,829.5 C1078,840 1075.5,850 1077,860 C1080,880 1090,905 1098,925 C1103,938 1105,948 1103.4,958 C1101,975 1093,990 1084.7,1005" fill="none" stroke="#d23c17" stroke-width="2.1" stroke-linecap="round" stroke-linejoin="round"/>
<path d="M1119.2,835.5 C1113,850 1108,870 1106.4,890 C1105,910 1106.4,930 1108.4,950 C1110.4,975 1112.4,1000 1112.4,1023" fill="none" stroke="#2e3f9f" stroke-width="2.1" stroke-linecap="round" stroke-linejoin="round"/>
<path d="M1325.6,1154.2 C1338,1151.6 1350,1150 1360,1150.4 C1372,1151 1380,1156 1385,1163 C1389.6,1170 1392,1177 1394,1183.6" fill="none" stroke="#2e3f9f" stroke-width="2.1" stroke-linecap="round" stroke-linejoin="round"/>
<path d="M1325.6,1158.7 C1334,1155.6 1342,1154 1349,1154.2 C1356,1154.6 1359,1160 1362,1168 C1365,1176 1370,1181 1378,1184" fill="none" stroke="#d23c17" stroke-width="2.1" stroke-linecap="round" stroke-linejoin="round"/>
<path class="lw" d="M1270.6,1151.1 L1275.8,1141.8 L1286,1135.8 L1318,1135.8 L1330.4,1143.6 L1330.4,1157.3 L1324.7,1168.4 L1270.6,1168.4 Z"/>
<path class="ln" d="M1270.6,1151.1 L1280.2,1145.8 L1312.2,1145.8 L1324.7,1153.8 L1324.7,1168.4 M1280.2,1145.8 L1286,1135.8 M1312.2,1145.8 L1318,1135.8 M1324.7,1153.8 L1330.4,1143.6 M1275.8,1141.8 L1280.2,1145.8"/>
<path d="M1325.2,1154.3 L1331,1153.1" fill="none" stroke="#2e3f9f" stroke-width="2.1" stroke-linecap="round" stroke-linejoin="round"/>
<path d="M1325.2,1158.8 L1331,1156.7" fill="none" stroke="#d23c17" stroke-width="2.1" stroke-linecap="round" stroke-linejoin="round"/>
<g transform="translate(1040,1000) scale(0.05)">
<g transform="translate(-545,-355)"><path d="M885,845 L1560,485 L1560,720 L885,1085 Z" fill="#fff" stroke="#000" stroke-width="1.0" stroke-linejoin="round" vector-effect="non-scaling-stroke"/><path d="M670,740 L1345,380 L1560,485 L885,845 Z" fill="#262626" stroke="#000" stroke-width="1.0" stroke-linejoin="round" vector-effect="non-scaling-stroke"/><path d="M862,790 L1535,432" fill="none" stroke="#fff" stroke-width="1.15" stroke-linejoin="round" vector-effect="non-scaling-stroke" stroke-dasharray="3.4 2.2" stroke-dashoffset="1"/><path d="M745,772 L790,748 M805,800 L850,776" fill="none" stroke="#fff" stroke-width="0.8" stroke-linejoin="round" vector-effect="non-scaling-stroke"/><path d="M670,740 L885,845 L885,1085 L670,965 Z" fill="#fff" stroke="#000" stroke-width="1.2" stroke-linejoin="round" vector-effect="non-scaling-stroke"/><path d="M712,812 L848,880 L848,1030 L712,955 Z" fill="#fff" stroke="#000" stroke-width="1.3" stroke-linejoin="round" vector-effect="non-scaling-stroke"/><path d="M745,915 L820,955" fill="none" stroke="#000" stroke-width="0.9" stroke-linejoin="round" vector-effect="non-scaling-stroke"/><path d="M780,640 C770,600 790,555 850,505 C900,488 1000,480 1060,440 C1130,390 1170,320 1220,275 C1280,235 1380,240 1425,300 C1455,350 1450,410 1420,440 C1330,480 1180,540 1080,610 C1040,655 1000,700 930,720 C870,730 810,700 780,640 Z" fill="#fff" stroke="#000" stroke-width="0.9" stroke-linejoin="round" vector-effect="non-scaling-stroke"/><path d="M800,675 C850,740 950,750 1030,700 C1075,660 1110,620 1170,585 C1250,540 1340,505 1415,470" fill="none" stroke="#000" stroke-width="0.8" stroke-linejoin="round" vector-effect="non-scaling-stroke"/></g>
<g transform="translate(-275,-180)"><path d="M885,845 L1560,485 L1560,720 L885,1085 Z" fill="#fff" stroke="#000" stroke-width="1.0" stroke-linejoin="round" vector-effect="non-scaling-stroke"/><path d="M670,740 L1345,380 L1560,485 L885,845 Z" fill="#262626" stroke="#000" stroke-width="1.0" stroke-linejoin="round" vector-effect="non-scaling-stroke"/><path d="M862,790 L1535,432" fill="none" stroke="#fff" stroke-width="1.15" stroke-linejoin="round" vector-effect="non-scaling-stroke" stroke-dasharray="3.4 2.2" stroke-dashoffset="1"/><path d="M745,772 L790,748 M805,800 L850,776" fill="none" stroke="#fff" stroke-width="0.8" stroke-linejoin="round" vector-effect="non-scaling-stroke"/><path d="M670,740 L885,845 L885,1085 L670,965 Z" fill="#fff" stroke="#000" stroke-width="1.2" stroke-linejoin="round" vector-effect="non-scaling-stroke"/><path d="M712,812 L848,880 L848,1030 L712,955 Z" fill="#fff" stroke="#000" stroke-width="1.3" stroke-linejoin="round" vector-effect="non-scaling-stroke"/><path d="M745,915 L820,955" fill="none" stroke="#000" stroke-width="0.9" stroke-linejoin="round" vector-effect="non-scaling-stroke"/><path d="M780,640 C770,600 790,555 850,505 C900,488 1000,480 1060,440 C1130,390 1170,320 1220,275 C1280,235 1380,240 1425,300 C1455,350 1450,410 1420,440 C1330,480 1180,540 1080,610 C1040,655 1000,700 930,720 C870,730 810,700 780,640 Z" fill="#fff" stroke="#000" stroke-width="0.9" stroke-linejoin="round" vector-effect="non-scaling-stroke"/><path d="M800,675 C850,740 950,750 1030,700 C1075,660 1110,620 1170,585 C1250,540 1340,505 1415,470" fill="none" stroke="#000" stroke-width="0.8" stroke-linejoin="round" vector-effect="non-scaling-stroke"/></g>
<g transform="translate(0,0)"><path d="M885,845 L1560,485 L1560,720 L885,1085 Z" fill="#fff" stroke="#000" stroke-width="1.0" stroke-linejoin="round" vector-effect="non-scaling-stroke"/><path d="M670,740 L1345,380 L1560,485 L885,845 Z" fill="#262626" stroke="#000" stroke-width="1.0" stroke-linejoin="round" vector-effect="non-scaling-stroke"/><path d="M862,790 L1535,432" fill="none" stroke="#fff" stroke-width="1.15" stroke-linejoin="round" vector-effect="non-scaling-stroke" stroke-dasharray="3.4 2.2" stroke-dashoffset="1"/><path d="M745,772 L790,748 M805,800 L850,776" fill="none" stroke="#fff" stroke-width="0.8" stroke-linejoin="round" vector-effect="non-scaling-stroke"/><path d="M670,740 L885,845 L885,1085 L670,965 Z" fill="#fff" stroke="#000" stroke-width="1.2" stroke-linejoin="round" vector-effect="non-scaling-stroke"/><path d="M712,812 L848,880 L848,1030 L712,955 Z" fill="#fff" stroke="#000" stroke-width="1.3" stroke-linejoin="round" vector-effect="non-scaling-stroke"/><path d="M745,915 L820,955" fill="none" stroke="#000" stroke-width="0.9" stroke-linejoin="round" vector-effect="non-scaling-stroke"/><path d="M780,640 C770,600 790,555 850,505 C900,488 1000,480 1060,440 C1130,390 1170,320 1220,275 C1280,235 1380,240 1425,300 C1455,350 1450,410 1420,440 C1330,480 1180,540 1080,610 C1040,655 1000,700 930,720 C870,730 810,700 780,640 Z" fill="#fff" stroke="#000" stroke-width="0.9" stroke-linejoin="round" vector-effect="non-scaling-stroke"/><path d="M800,675 C850,740 950,750 1030,700 C1075,660 1110,620 1170,585 C1250,540 1340,505 1415,470" fill="none" stroke="#000" stroke-width="0.8" stroke-linejoin="round" vector-effect="non-scaling-stroke"/></g>
</g>
<path d="M1051.3,1029.0 C1050.5,1032.5 1047.8,1042.3 1046.6,1050.0 C1045.4,1057.7 1044.4,1067.2 1044.0,1075.0 C1043.6,1082.8 1042.7,1089.5 1044.0,1096.7 C1045.3,1103.9 1048.9,1112.7 1052.0,1118.0 C1055.1,1123.3 1057.7,1125.3 1062.7,1128.7 C1067.7,1132.1 1074.2,1136.0 1082.2,1138.4 C1090.2,1140.8 1100.3,1141.7 1110.7,1142.9 C1121.1,1144.1 1132.9,1144.6 1144.4,1145.6 C1156.0,1146.6 1168.1,1147.5 1180.0,1149.1 C1191.9,1150.7 1204.8,1153.1 1215.6,1155.0 C1226.4,1156.9 1235.8,1158.8 1245.0,1160.6 C1254.2,1162.4 1266.3,1164.9 1270.6,1165.8" fill="none" stroke="#d23c17" stroke-width="2.1" stroke-linecap="round" stroke-linejoin="round"/>
<path d="M1078.8,1046.0 C1077.8,1047.7 1074.2,1052.7 1072.6,1056.0 C1071.0,1059.3 1069.9,1063.3 1069.4,1066.0 C1068.9,1068.7 1069.2,1070.2 1069.6,1072.0 C1070.0,1073.8 1070.1,1074.8 1071.6,1077.1 C1073.1,1079.4 1074.8,1082.5 1078.7,1086.0 C1082.6,1089.5 1089.1,1094.4 1094.7,1098.4 C1100.3,1102.4 1105.9,1106.1 1112.4,1110.0 C1118.9,1113.9 1124.9,1117.4 1133.8,1121.6 C1142.7,1125.8 1155.1,1131.2 1165.8,1134.9 C1176.5,1138.6 1186.5,1141.4 1197.8,1143.8 C1209.0,1146.2 1221.2,1147.7 1233.3,1149.1 C1245.4,1150.5 1264.4,1151.6 1270.6,1152.1" fill="none" stroke="#2e3f9f" stroke-width="2.1" stroke-linecap="round" stroke-linejoin="round"/>
</g>
</svg></body></html>
